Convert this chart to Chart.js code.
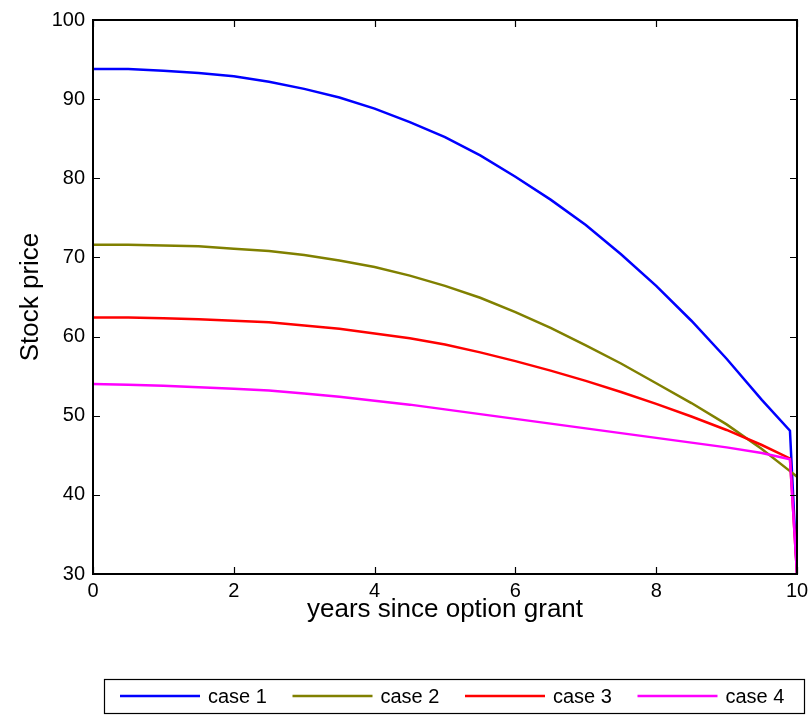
<!DOCTYPE html>
<html>
<head>
<meta charset="utf-8">
<script src="https://cdn.jsdelivr.net/npm/chart.js@4/dist/chart.umd.min.js"></script>
<style>
  html, body { margin: 0; padding: 0; background: #fff; }
  #wrap { width: 810px; height: 716px; position: relative; }
</style>
</head>
<body>
<div id="wrap"><canvas id="priceChart"></canvas></div>
<script>
// years since grant (shared x values)
const years = [0, 0.5, 1, 1.5, 2, 2.5, 3, 3.5, 4, 4.5, 5, 5.5, 6, 6.5, 7, 7.5, 8, 8.5, 9, 9.5, 9.9, 10];

// exercise boundary per case
const case1 = [93.8, 93.8, 93.6, 93.3, 92.9, 92.2, 91.3, 90.2, 88.8, 87.1, 85.2, 82.9, 80.2, 77.3, 74.1, 70.4, 66.4, 62.0, 57.2, 52.0, 48.1, 30];
const case2 = [71.6, 71.6, 71.5, 71.4, 71.1, 70.8, 70.3, 69.6, 68.8, 67.7, 66.4, 64.9, 63.1, 61.1, 58.9, 56.6, 54.1, 51.6, 48.9, 45.8, 43.0, 42.3];
const case3 = [62.4, 62.4, 62.3, 62.2, 62.0, 61.8, 61.4, 61.0, 60.4, 59.8, 59.0, 58.0, 56.9, 55.7, 54.4, 53.0, 51.5, 49.9, 48.2, 46.3, 44.6, 30];
const case4 = [54.0, 53.9, 53.8, 53.6, 53.4, 53.2, 52.8, 52.4, 51.9, 51.4, 50.8, 50.2, 49.6, 49.0, 48.4, 47.8, 47.2, 46.6, 46.0, 45.3, 44.5, 30];

const seriesNames = ['case 1', 'case 2', 'case 3', 'case 4'];
const seriesColors = ['#0000ff', '#808000', '#ff0000', '#ff00ff'];

const FONT = '"Liberation Sans", Arial, Helvetica, sans-serif';

function toPoints(vals) {
  return vals.map((v, i) => ({ x: years[i], y: v }));
}

const datasets = [case1, case2, case3, case4].map((vals, i) => ({
  label: seriesNames[i],
  data: toPoints(vals),
  borderColor: seriesColors[i],
  backgroundColor: seriesColors[i],
  borderWidth: 2.5,
  pointRadius: 0,
  tension: 0,
  fill: false,
  order: 4 - i   // later cases drawn on top
}));

// box around the axes with inward ticks on all four sides
const frameTicks = {
  id: 'frameTicks',
  afterDraw(chart) {
    const { ctx, chartArea: a, scales } = chart;
    const len = 7;
    ctx.save();
    ctx.strokeStyle = '#000';
    ctx.lineWidth = 1.2;
    ctx.beginPath();
    scales.x.ticks.forEach(t => {
      const px = Math.round(scales.x.getPixelForValue(t.value)) + 0.5;
      ctx.moveTo(px, a.bottom); ctx.lineTo(px, a.bottom - len);
      ctx.moveTo(px, a.top); ctx.lineTo(px, a.top + len);
    });
    scales.y.ticks.forEach(t => {
      const py = Math.round(scales.y.getPixelForValue(t.value)) + 0.5;
      ctx.moveTo(a.left, py); ctx.lineTo(a.left + len, py);
      ctx.moveTo(a.right, py); ctx.lineTo(a.right - len, py);
    });
    ctx.stroke();
    ctx.lineWidth = 2;
    ctx.strokeRect(a.left, a.top, a.right - a.left, a.bottom - a.top);
    ctx.restore();
  }
};

// single-row boxed legend under the axes
const boxLegend = {
  id: 'boxLegend',
  afterDraw(chart) {
    const { ctx } = chart;
    const box = { x: 104, y: 679, w: 700, h: 34 };
    const cy = box.y + box.h / 2;
    ctx.save();
    ctx.strokeStyle = '#000';
    ctx.lineWidth = 1.2;
    ctx.strokeRect(box.x + 0.5, box.y + 0.5, box.w, box.h);
    ctx.font = '20px ' + FONT;
    ctx.textBaseline = 'middle';
    ctx.fillStyle = '#000';
    chart.data.datasets.forEach((ds, i) => {
      const x0 = 120 + i * 172.5;
      ctx.strokeStyle = ds.borderColor;
      ctx.lineWidth = 2.5;
      ctx.beginPath();
      ctx.moveTo(x0, cy);
      ctx.lineTo(x0 + 80, cy);
      ctx.stroke();
      ctx.fillText(ds.label, x0 + 88, cy + 1);
    });
    ctx.restore();
  }
};

new Chart(document.getElementById('priceChart'), {
  type: 'line',
  data: { datasets },
  options: {
    responsive: true,
    maintainAspectRatio: false,
    animation: false,
    layout: { padding: { left: 0, top: 18, right: 13, bottom: 82 } },
    plugins: {
      legend: { display: false },
      tooltip: { enabled: false }
    },
    scales: {
      x: {
        type: 'linear',
        min: 0,
        max: 10,
        grid: { display: false, drawTicks: false },
        border: { display: false },
        ticks: {
          stepSize: 2,
          padding: 5,
          color: '#000',
          font: { family: FONT, size: 20 },
          maxRotation: 0
        },
        title: {
          display: true,
          text: 'years since option grant',
          color: '#000',
          font: { family: FONT, size: 26 },
          padding: { top: 0, bottom: 9 }
        },
        afterFit(scale) {
          scale.height = 60;
          scale.paddingLeft = 0;
          scale.paddingRight = 0;
        }
      },
      y: {
        min: 30,
        max: 100,
        grid: { display: false, drawTicks: false },
        border: { display: false },
        ticks: {
          stepSize: 10,
          padding: 8,
          color: '#000',
          font: { family: FONT, size: 20 }
        },
        title: {
          display: true,
          text: 'Stock price',
          color: '#000',
          font: { family: FONT, size: 26 },
          padding: { top: 15, bottom: 0 }
        },
        afterFit(scale) { scale.width = 93; }
      }
    }
  },
  plugins: [frameTicks, boxLegend]
});
</script>
</body>
</html>
